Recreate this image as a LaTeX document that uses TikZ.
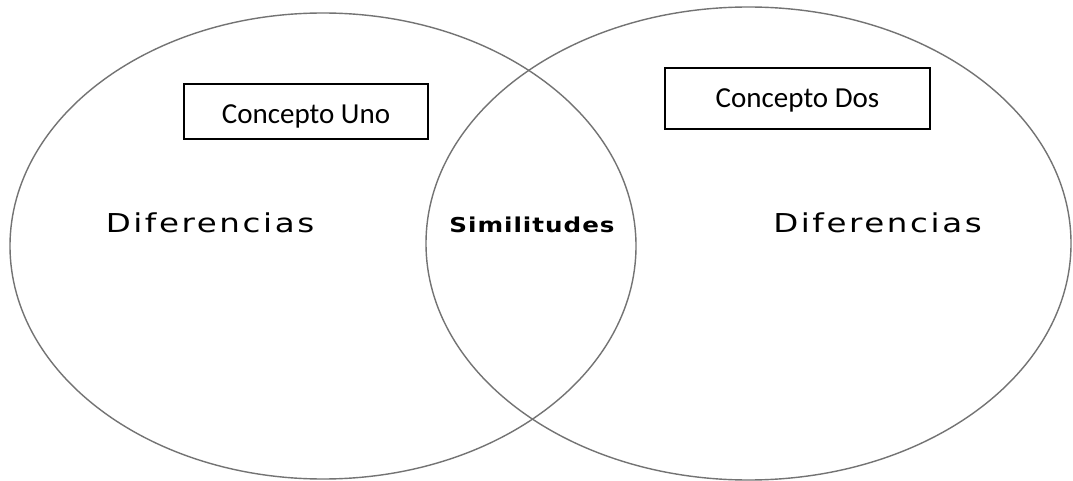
\documentclass[tikz,border=0pt]{standalone}
\usepackage{graphicx}
\usepackage{fontspec}
\newfontfamily\boxfont{Carlito}
\newfontfamily\labelfont[LetterSpace=8]{DejaVu Sans}
\newfontfamily\simfont[LetterSpace=4]{DejaVu Sans Bold}
\newcommand{\widetext}[1]{\scalebox{1.25}[1]{#1}}
\begin{document}
\begin{tikzpicture}[x=1pt,y=-1pt,
  setring/.style={draw=black!55,line width=1.4pt},
  conceptbox/.style={draw=black,line width=1.8pt,fill=white,inner sep=0pt,
    font=\boxfont\fontsize{29}{34}\selectfont},
  difflabel/.style={anchor=base,text=black,inner sep=0pt,
    font=\labelfont\fontsize{26}{30}\selectfont},
  simlabel/.style={anchor=base,text=black,inner sep=0pt,
    font=\simfont\fontsize{20.5}{24}\selectfont}]
  \useasboundingbox[fill=white] (0,0) rectangle (1073,481);

  % the two overlapping sets
  \draw[setring] (323,246) ellipse [x radius=313pt, y radius=233pt];
  \draw[setring] (748.5,243.5) ellipse [x radius=322.5pt, y radius=236.5pt];

  % concept titles
  \node[conceptbox,minimum width=244pt,minimum height=55pt,
        text height=25pt,text depth=0pt] (uno) at (306,111.5) {Concepto Uno};
  \node[conceptbox,minimum width=265pt,minimum height=61pt,
        text height=19pt,text depth=0pt] (dos) at (797.5,98.5) {Concepto Dos};

  % region labels
  \node[difflabel] (difuno) at (210,233) {\widetext{Diferencias}};
  \node[simlabel] (simil) at (532,233) {\scalebox{1.2}[1]{Similitudes}};
  \node[difflabel] (difdos) at (877.5,233) {\widetext{Diferencias}};
\end{tikzpicture}
\end{document}
